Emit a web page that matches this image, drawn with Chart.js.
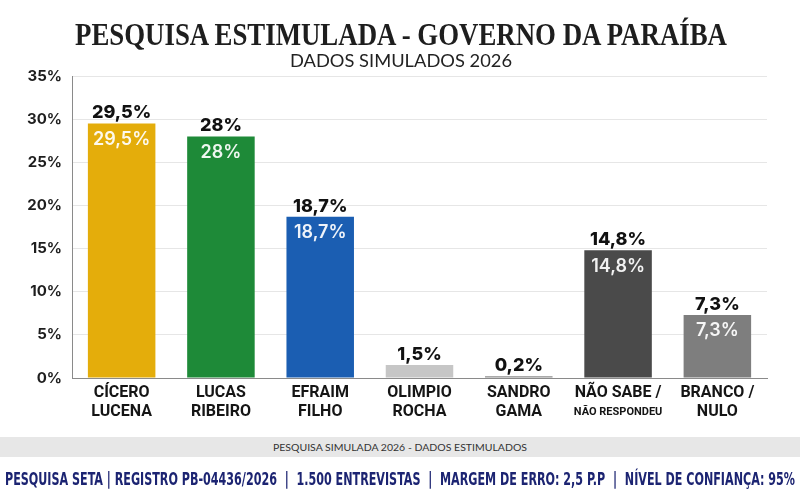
<!DOCTYPE html>
<html>
<head>
<meta charset="utf-8">
<script src="https://cdn.jsdelivr.net/npm/chart.js@4.4.1/dist/chart.umd.min.js"></script>
<style>
  html, body { margin: 0; padding: 0; background: #ffffff; }
  #wrap { position: relative; width: 800px; height: 500px; overflow: hidden; background: #ffffff; }
  #c { position: absolute; left: 0; top: 0; }
  .fit { position: absolute; white-space: nowrap; transform-origin: 0 0; line-height: 1; }
  #title { font-family: "Liberation Serif", "DejaVu Serif", serif; font-size: 31px; font-weight: bold; color: #1e1e1e; }
  #subtitle { font-family: Lato, "Open Sans", sans-serif; font-size: 17px; color: #222; }
  #band { position: absolute; left: 0; top: 437px; width: 800px; height: 20px; background: #e7e7e7; }
  #bandtext { font-family: Lato, "Open Sans", sans-serif; font-size: 10px; color: #333; }
  #foot { font-family: "Liberation Sans Narrow", "DejaVu Sans Condensed", "Roboto", sans-serif; font-weight: bold; font-size: 18px; color: #1c2472; }
</style>
</head>
<body>
<div id="wrap">
  <canvas id="c" width="800" height="500"></canvas>
  <div id="title" class="fit">PESQUISA ESTIMULADA - GOVERNO DA PARAÍBA</div>
  <div id="subtitle" class="fit">DADOS SIMULADOS 2026</div>
  <div id="band"></div>
  <div id="bandtext" class="fit">PESQUISA SIMULADA 2026 - DADOS ESTIMULADOS</div>
  <div id="foot" class="fit">PESQUISA SETA | REGISTRO PB-04436/2026 &nbsp;| &nbsp;1.500 ENTREVISTAS &nbsp;| &nbsp;MARGEM DE ERRO: 2,5 P.P &nbsp;| &nbsp;NÍVEL DE CONFIANÇA: 95%</div>
</div>
<script>
// ---- data ----
const categoryLine1 = ["CÍCERO", "LUCAS", "EFRAIM", "OLIMPIO", "SANDRO", "NÃO SABE /", "BRANCO /"];
const categoryLine2 = ["LUCENA", "RIBEIRO", "FILHO", "ROCHA", "GAMA", "NÃO RESPONDEU", "NULO"];
const values = [29.5, 28, 18.7, 1.5, 0.2, 14.8, 7.3];
const valueLabels = ["29,5%", "28%", "18,7%", "1,5%", "0,2%", "14,8%", "7,3%"];
const showInside = [true, true, true, false, false, true, true];
const barColors = ["#E4AD0B", "#1E8A38", "#1B5EB2", "#C6C6C6", "#8C8C8C", "#4A4A4A", "#7E7E7E"];
const yTicks = [0, 5, 10, 15, 20, 25, 30, 35];

// ---- fit html texts ----
function place(id, left, right, top) {
  const el = document.getElementById(id);
  const w = el.getBoundingClientRect().width;
  const s = (right - left) / w;
  el.style.left = left + 'px';
  el.style.top = top + 'px';
  el.style.transform = 'scaleX(' + s + ')';
}
place('title', 75, 727, 19);
place('subtitle', 290, 512, 52);
place('bandtext', 273, 527, 442);
place('foot', 5, 795, 470);

const labelPlugin = {
  id: 'labels',
  afterDatasetsDraw(chart) {
    const ctx = chart.ctx;
    const meta = chart.getDatasetMeta(0);
    const xs = chart.scales.x;
    ctx.save();
    ctx.textAlign = 'center';
    meta.data.forEach((bar, i) => {
      ctx.fillStyle = '#111111';
      ctx.font = '800 18px Inter, "Open Sans", sans-serif';
      ctx.textBaseline = 'alphabetic';
      ctx.fillText(valueLabels[i], bar.x, bar.y - 5);
      if (showInside[i]) {
        ctx.fillStyle = 'rgba(255,255,255,0.93)';
        ctx.font = '600 18px Inter, "Open Sans", sans-serif';
        ctx.textBaseline = 'middle';
        ctx.fillText(valueLabels[i], bar.x, bar.y + 16);
      }
    });
    ctx.fillStyle = '#151515';
    ctx.textBaseline = 'middle';
    for (let i = 0; i < categoryLine1.length; i++) {
      const x = xs.getPixelForValue(i);
      ctx.font = 'bold 16px Roboto, "Open Sans", sans-serif';
      ctx.fillText(categoryLine1[i], x, 393);
      if (categoryLine2[i].length > 8) ctx.font = 'bold 11px Roboto, "Open Sans", sans-serif';
      ctx.fillText(categoryLine2[i], x, 412);
    }
    ctx.restore();
  }
};

new Chart(document.getElementById('c'), {
  type: 'bar',
  data: {
    labels: categoryLine1.map((l, i) => [l, categoryLine2[i]]),
    datasets: [{
      data: values,
      backgroundColor: barColors,
      borderWidth: 0,
      barPercentage: 0.68,
      categoryPercentage: 1.0
    }]
  },
  options: {
    responsive: false,
    animation: false,
    events: [],
    layout: { padding: { left: 0, right: 33, top: 76, bottom: 62 } },
    plugins: { legend: { display: false }, tooltip: { enabled: false }, title: { display: false } },
    scales: {
      x: {
        grid: { display: false, drawTicks: false },
        border: { display: true, color: '#8a8a8a', width: 1 },
        ticks: { display: false },
        afterFit(s) { s.height = 60; }
      },
      y: {
        min: 0, max: 35,
        afterBuildTicks(s) { s.ticks = yTicks.map(v => ({ value: v })); },
        grid: { color: '#e6e6e6', drawTicks: false, lineWidth: 1 },
        border: { display: true, color: '#8a8a8a', width: 1 },
        ticks: {
          padding: 10,
          color: '#1e1e1e',
          font: { family: 'Inter, "Open Sans", sans-serif', size: 15, weight: 'bold' },
          callback: v => v + '%'
        },
        afterFit(s) { s.width = 72; }
      }
    }
  },
  plugins: [labelPlugin]
});
</script>
</body>
</html>
